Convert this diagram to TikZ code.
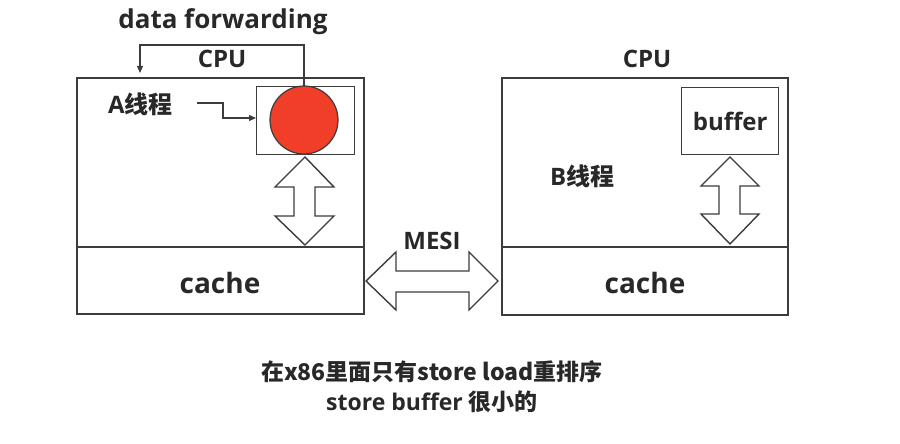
\documentclass[tikz,border=0pt]{standalone}
\usepackage{fontspec}
\setmainfont{Open Sans}
\newfontfamily\cjk{Noto Sans CJK SC}
\usetikzlibrary{arrows.meta}
\definecolor{ln}{RGB}{60,60,60}
\definecolor{txt}{RGB}{40,40,40}
\definecolor{redball}{RGB}{240,62,40}
\begin{document}
\begin{tikzpicture}[x=1pt,y=-1pt,
  box/.style={draw=ln,line width=1.4pt},
  lbl/.style={text=txt,font=\bfseries\fontsize{24}{28}\selectfont,inner sep=0pt},
  big/.style={text=txt,font=\bfseries\fontsize{28}{32}\selectfont,inner sep=0pt},
  conn/.style={draw=ln,line width=1.2pt,-{Triangle[length=7pt,width=6pt]}},
  dbl/.style={draw=ln,line width=1.4pt,fill=white,line join=miter}]
\useasboundingbox (0,0) rectangle (900,444);
% left CPU
\draw[box] (77,78) rectangle (364,314);
\draw[box] (77,247) -- (364,247);
\node[box,minimum width=98pt,minimum height=68pt,inner sep=0pt,anchor=north west] (bufA) at (256,86) {};
\fill[redball,draw=ln,line width=1.2pt] (304,120) circle (34pt);
\coordinate (ctop) at (304,86);
\node[lbl] (cpuA) at (222,59) {CPU};
\node[lbl,anchor=west] (thA) at (108,104) {A\cjk{线程}};
\node[lbl,font=\bfseries\fontsize{26}{30}\selectfont] (df) at (223,22) {data forwarding};
\coordinate (dfend) at (140,73);
\draw[conn] (ctop) -- (304,45) -| (dfend);
\coordinate (as) at (197,103);
\draw[conn] (as) -- (223,103) |- (bufA.west |- 0,118);
% left double arrow
\draw[dbl] (305,157) -- (334,187) -- (315,187) -- (315,216) -- (334,216) -- (305,245)
  -- (275,216) -- (294,216) -- (294,187) -- (275,187) -- cycle;
\node[big] (cacheA) at (220,283) {cache};
% right CPU
\draw[box] (502,78) rectangle (788,315);
\draw[box] (502,247) -- (788,247);
\node[box,minimum width=97pt,minimum height=67pt,inner sep=0pt,anchor=north west,text=txt,font=\bfseries\fontsize{24}{28}\selectfont] (bufB) at (681,87) {buffer};
\node[lbl] (cpuB) at (647,59) {CPU};
\node[lbl,anchor=west] (thB) at (550,176) {B\cjk{线程}};
\draw[dbl] (730,157) -- (759,186) -- (740,186) -- (740,214) -- (759,214) -- (730,244)
  -- (701,214) -- (719,214) -- (719,186) -- (701,186) -- cycle;
\node[big] (cacheB) at (645,283) {cache};
% MESI arrow
\draw[dbl] (366,281) -- (396,252) -- (396,271) -- (469,271) -- (469,252) -- (498,281)
  -- (469,310) -- (469,292) -- (396,292) -- (396,310) -- cycle;
\node[lbl] (mesi) at (432,241) {MESI};
% bottom text
\node[lbl,font=\bfseries\fontsize{23}{27}\selectfont] (n1) at (432,372) {\cjk{在}x86\cjk{里面只有}store load\cjk{重排序}};
\node[lbl,font=\bfseries\fontsize{23}{27}\selectfont] (n2) at (432,402) {store buffer \cjk{很小的}};
\end{tikzpicture}
\end{document}
